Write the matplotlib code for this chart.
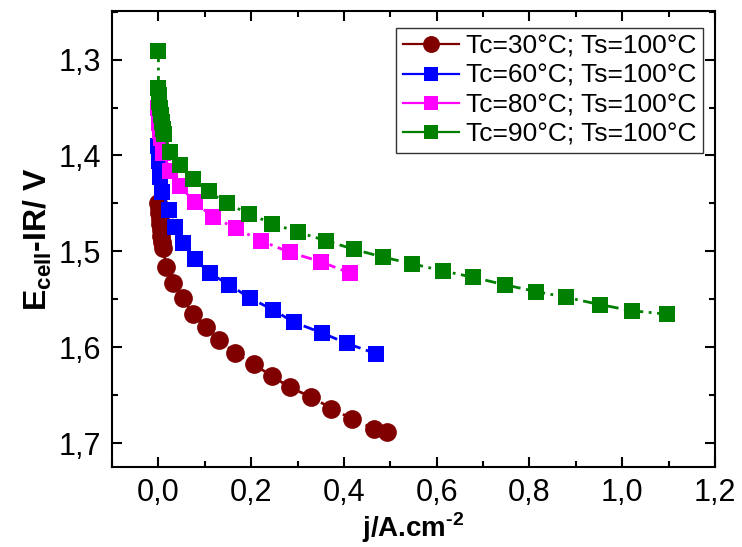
import matplotlib
matplotlib.use("Agg")
import matplotlib.pyplot as plt
from matplotlib.ticker import MultipleLocator, FuncFormatter
from matplotlib.lines import Line2D

plt.rcParams['font.family'] = ['Liberation Sans', 'DejaVu Sans']
plt.rcParams['mathtext.fontset'] = 'custom'
plt.rcParams['mathtext.rm'] = 'Liberation Sans'
plt.rcParams['mathtext.bf'] = 'Liberation Sans:bold'
plt.rcParams['axes.unicode_minus'] = False

# Tc = 30 C
j_30 = [0.000, 0.001, 0.002, 0.003, 0.004, 0.005, 0.006, 0.008, 0.010,
        0.017, 0.032, 0.052, 0.074, 0.102, 0.131, 0.166, 0.205, 0.245,
        0.283, 0.330, 0.373, 0.418, 0.464, 0.492]
e_30 = [1.450, 1.455, 1.460, 1.466, 1.472, 1.478, 1.484, 1.490, 1.497,
        1.516, 1.533, 1.549, 1.565, 1.579, 1.593, 1.606, 1.618, 1.630,
        1.642, 1.652, 1.664, 1.675, 1.685, 1.689]

# Tc = 60 C
j_60 = [0.000, 0.001, 0.002, 0.003, 0.004, 0.007, 0.023, 0.035, 0.053,
        0.079, 0.111, 0.153, 0.198, 0.247, 0.292, 0.352, 0.406, 0.470]
e_60 = [1.390, 1.398, 1.406, 1.414, 1.422, 1.438, 1.457, 1.475, 1.491,
        1.508, 1.523, 1.535, 1.549, 1.561, 1.574, 1.585, 1.596, 1.607]

# Tc = 80 C
j_80 = [0.000, 0.001, 0.002, 0.004, 0.006, 0.010, 0.025, 0.046, 0.079,
        0.117, 0.167, 0.221, 0.283, 0.351, 0.414]
e_80 = [1.350, 1.358, 1.366, 1.374, 1.382, 1.397, 1.416, 1.432, 1.449,
        1.464, 1.476, 1.489, 1.501, 1.511, 1.523]

# Tc = 90 C
j_90 = [0.000, 0.000, 0.001, 0.002, 0.004, 0.006, 0.008, 0.010, 0.012,
        0.025, 0.046, 0.075, 0.108, 0.147, 0.196, 0.245, 0.301, 0.362,
        0.422, 0.484, 0.547, 0.614, 0.678, 0.747, 0.815, 0.879, 0.951,
        1.021, 1.097]
e_90 = [1.291, 1.330, 1.337, 1.344, 1.351, 1.358, 1.365, 1.372, 1.378,
        1.396, 1.410, 1.425, 1.4375, 1.450, 1.461, 1.471, 1.480, 1.489,
        1.498, 1.506, 1.513, 1.5205, 1.527, 1.535, 1.542, 1.548, 1.5555,
        1.562, 1.5656]

labels = ["Tc=30°C; Ts=100°C", "Tc=60°C; Ts=100°C",
          "Tc=80°C; Ts=100°C", "Tc=90°C; Ts=100°C"]
colors = ["#800000", "#0000FF", "#FF00FF", "#008000"]
markers = ["o", "s", "s", "s"]
sizes = [13.5, 11.5, 11.5, 11.5]

fig = plt.figure(figsize=(7.42, 5.47), dpi=100)
ax = fig.add_axes([0.151, 0.1463, 0.8126, 0.8341])

series = [(j_30, e_30), (j_60, e_60), (j_80, e_80), (j_90, e_90)]
handles = []
for (x, y), c, m, s, lab in zip(series, colors, markers, sizes, labels):
    ax.plot(x, y, color=c, linestyle=(0, (4, 2, 1, 2)), linewidth=2,
            marker=m, markersize=s, markeredgewidth=0, zorder=3)
    handles.append(Line2D([], [], color=c, linewidth=1.6, marker=m,
                          markersize=s * 0.9, markeredgewidth=0, label=lab))

ax.set_xlim(-0.1, 1.2)
ax.set_ylim(1.725, 1.249)

ax.xaxis.set_major_locator(MultipleLocator(0.2))
ax.xaxis.set_minor_locator(MultipleLocator(0.1))
ax.yaxis.set_major_locator(MultipleLocator(0.1))
ax.yaxis.set_minor_locator(MultipleLocator(0.05))
comma = FuncFormatter(lambda v, p: f"{v:.1f}".replace(".", ","))
ax.xaxis.set_major_formatter(comma)
ax.yaxis.set_major_formatter(comma)

ax.tick_params(which="both", direction="in", top=True, right=True,
               labelsize=22, width=1.5)
ax.tick_params(which="major", length=7, pad=8)
ax.tick_params(which="minor", length=4)
for sp in ax.spines.values():
    sp.set_linewidth(1.5)

ax.set_xlabel("j/A.cm$^{\\mathbf{\u2010}\\mathbf{2}}$", fontsize=20,
              fontweight="bold", labelpad=2)
ax.set_ylabel(r"$\mathbf{E_{cell}}$-IR/ V", fontsize=23, fontweight="bold",
              labelpad=3)

leg = ax.legend(handles=handles, loc="upper right",
                bbox_to_anchor=(0.98, 0.962), fontsize=19, frameon=True,
                fancybox=False, edgecolor="black", handlelength=2.15,
                handletextpad=0.25, borderpad=0.25, labelspacing=0.2,
                borderaxespad=0)
leg.get_frame().set_linewidth(1.0)

fig.savefig("out.png", dpi=100)
